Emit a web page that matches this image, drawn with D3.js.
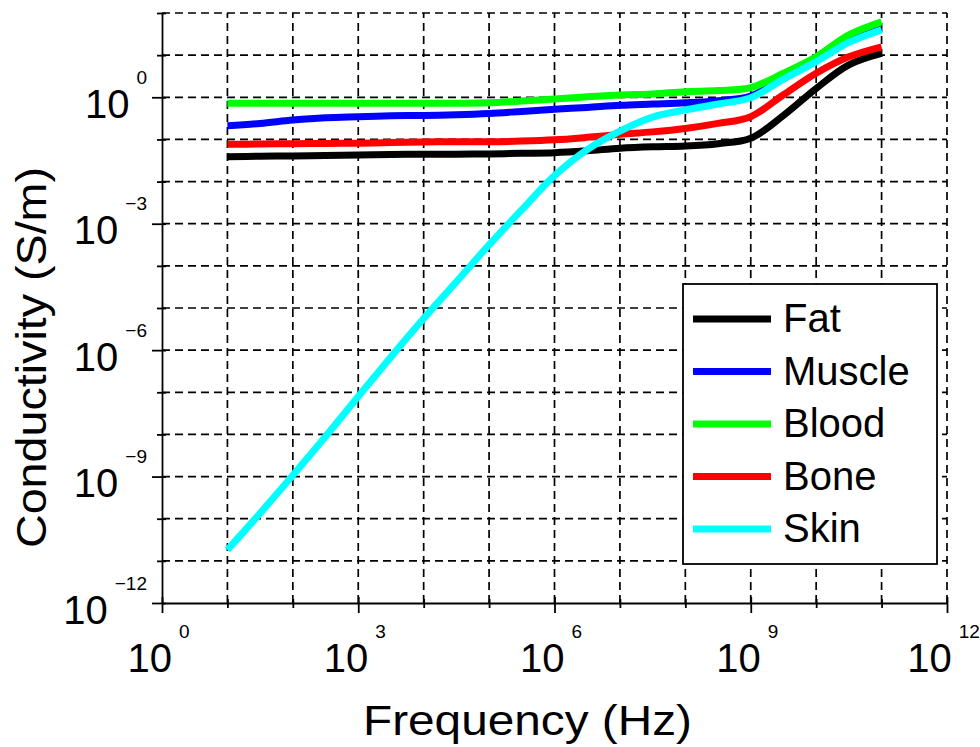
<!DOCTYPE html>
<meta charset="utf-8">
<script src="https://d3js.org/d3.v7.min.js"></script>
<style>
  body { margin: 0; background: #fff; }
  text { font-family: "Liberation Sans", Arial, Helvetica, sans-serif; fill: #000; }
</style>
<div id="chart"></div>
<script>
// frequencies (Hz), half-decade steps from 10 Hz to 100 GHz
const freqHz = [1e1, 3.16e1, 1e2, 3.16e2, 1e3, 3.16e3, 1e4, 3.16e4, 1e5, 3.16e5,
                1e6, 3.16e6, 1e7, 3.16e7, 1e8, 3.16e8, 1e9, 3.16e9, 1e10, 3.16e10, 1e11];

// conductivity (S/m)
const fat    = [0.0389, 0.0398, 0.0407, 0.0417, 0.0427, 0.0437, 0.0447, 0.0447, 0.0452, 0.0468,
                0.0484, 0.0537, 0.0617, 0.0668, 0.0698, 0.0794, 0.107, 0.370, 1.62, 5.89, 11.0];
const muscle = [0.212, 0.240, 0.288, 0.327, 0.346, 0.363, 0.372, 0.385, 0.412, 0.462,
                0.519, 0.575, 0.646, 0.692, 0.741, 0.832, 1.07, 2.82, 7.67, 21.4, 41.7];
const blood  = [0.719, 0.719, 0.719, 0.719, 0.719, 0.719, 0.719, 0.724, 0.741, 0.813,
                0.912, 1.03, 1.13, 1.20, 1.36, 1.44, 1.69, 3.72, 9.18, 30.2, 61.7];
const bone   = [0.0766, 0.0776, 0.0794, 0.0804, 0.0813, 0.0841, 0.0871, 0.0877, 0.0883, 0.0912,
                0.0977, 0.112, 0.132, 0.151, 0.182, 0.240, 0.347, 1.15, 3.72, 9.12, 15.8];
const skin   = [1.82e-11, 1.35e-10, 1.07e-9, 8.9e-9, 7.94e-8, 6.92e-7, 5.62e-6, 4.17e-5, 3.16e-4, 2.14e-3,
                1.38e-2, 5.75e-2, 0.158, 0.339, 0.501, 0.692, 0.977, 2.69, 7.00, 20.0, 39.8];

const tissues = ["Fat", "Muscle", "Blood", "Bone", "Skin"];
const tissueValues = [fat, muscle, blood, bone, skin];
const colors = ["#000000", "#0000ff", "#00ff00", "#ff0000", "#00ffff"];

const xDecades = [1e0, 1e1, 1e2, 1e3, 1e4, 1e5, 1e6, 1e7, 1e8, 1e9, 1e10, 1e11, 1e12];
const yDecades = [1e-12, 1e-11, 1e-10, 1e-9, 1e-8, 1e-7, 1e-6, 1e-5, 1e-4, 1e-3, 1e-2, 1e-1, 1e0, 1e1, 1e2];
const xLabelExp = ["0", "3", "6", "9", "12"];
const yLabelExp = ["\u221212", "\u22129", "\u22126", "\u22123", "0"];

const width = 980, height = 747;
const margin = {top: 13, right: 33, bottom: 144, left: 162};
const x0 = margin.left, x1 = width - margin.right;
const y0 = height - margin.bottom, y1 = margin.top;

const svg = d3.select("#chart").append("svg")
  .attr("width", width)
  .attr("height", height);

svg.append("rect").attr("width", width).attr("height", height).attr("fill", "#fff");

const x = d3.scaleLog().domain([1, 1e12]).range([x0, x1]);
const y = d3.scaleLog().domain([1e-12, 1e2]).range([y0, y1]);

const exp10 = d => Math.round(Math.log10(d));

// dashed grid
const grid = svg.append("g").attr("stroke", "#000").attr("stroke-width", 1.7)
  .attr("stroke-dasharray", "8,5");
grid.selectAll("line.v").data(xDecades.slice(1)).join("line")
  .attr("x1", d => x(d)).attr("x2", d => x(d))
  .attr("y1", y0).attr("y2", y1);
grid.selectAll("line.h").data(yDecades.slice(1)).join("line")
  .attr("x1", x0).attr("x2", x1)
  .attr("y1", d => y(d)).attr("y2", d => y(d));

// x axis
const xAxis = svg.append("g")
  .attr("transform", `translate(0,${y0})`)
  .call(d3.axisBottom(x).tickValues(xDecades).tickSize(0).tickFormat(""));
xAxis.select(".domain").attr("stroke", "#000").attr("stroke-width", 1.8);
xAxis.selectAll(".tick line")
  .attr("stroke", "#000").attr("stroke-width", 1.8)
  .attr("y1", d => exp10(d) % 3 === 0 ? -6 : -4)
  .attr("y2", d => exp10(d) % 3 === 0 ? 10 : 5);
xAxis.selectAll(".tick").filter(d => exp10(d) % 3 === 0)
  .append("text")
    .attr("x", -4).attr("y", 69)
    .attr("text-anchor", "middle")
    .call(t => {
      t.append("tspan").attr("font-size", 40).text("10");
      t.append("tspan").attr("font-size", 19).attr("dx", 7).attr("dy", -34)
        .text(d => xLabelExp[exp10(d) / 3]);
    });

// y axis
const yAxis = svg.append("g")
  .attr("transform", `translate(${x0},0)`)
  .call(d3.axisLeft(y).tickValues(yDecades).tickSize(0).tickFormat(""));
yAxis.select(".domain").attr("stroke", "#000").attr("stroke-width", 1.8);
yAxis.selectAll(".tick line")
  .attr("stroke", "#000").attr("stroke-width", 1.8)
  .attr("x1", d => exp10(d) % 3 === 0 ? -10 : -5)
  .attr("x2", 4);
yAxis.selectAll(".tick").filter(d => exp10(d) % 3 === 0 && exp10(d) <= 0)
  .append("text")
    .attr("x", -15).attr("y", 20)
    .attr("text-anchor", "end")
    .call(t => {
      t.append("tspan").attr("font-size", 40).text("10");
      t.append("tspan").attr("font-size", 19).attr("dx", 7).attr("dy", -34)
        .text(d => yLabelExp[(exp10(d) + 12) / 3]);
    });

// curves
const line = d3.line()
  .x((d, i) => x(freqHz[i]))
  .y(d => y(d))
  .curve(d3.curveCatmullRom.alpha(0.5));

svg.append("g").selectAll("path")
  .data(tissueValues)
  .join("path")
    .attr("d", line)
    .attr("fill", "none")
    .attr("stroke", (d, i) => colors[i])
    .attr("stroke-width", 7);

// legend
const legend = svg.append("g").attr("transform", "translate(683,284)");
legend.append("rect")
  .attr("width", 254).attr("height", 280)
  .attr("fill", "#fff").attr("stroke", "#000").attr("stroke-width", 1.8);
const item = legend.selectAll("g.item").data(tissues).join("g")
  .attr("transform", (d, i) => `translate(0,${35 + i * 52.5})`);
item.append("line")
  .attr("x1", 10).attr("x2", 88)
  .attr("stroke", (d, i) => colors[i])
  .attr("stroke-width", 7);
item.append("text")
  .attr("x", 100).attr("y", 13)
  .attr("font-size", 40)
  .text(d => d);

// axis titles
svg.append("text")
  .attr("x", 527.5).attr("y", 735)
  .attr("text-anchor", "middle")
  .attr("font-size", 42)
  .attr("textLength", 329).attr("lengthAdjust", "spacingAndGlyphs")
  .text("Frequency (Hz)");

svg.append("text")
  .attr("transform", "translate(46,357.5) rotate(-90)")
  .attr("text-anchor", "middle")
  .attr("font-size", 42)
  .attr("textLength", 381).attr("lengthAdjust", "spacingAndGlyphs")
  .text("Conductivity (S/m)");
</script>
